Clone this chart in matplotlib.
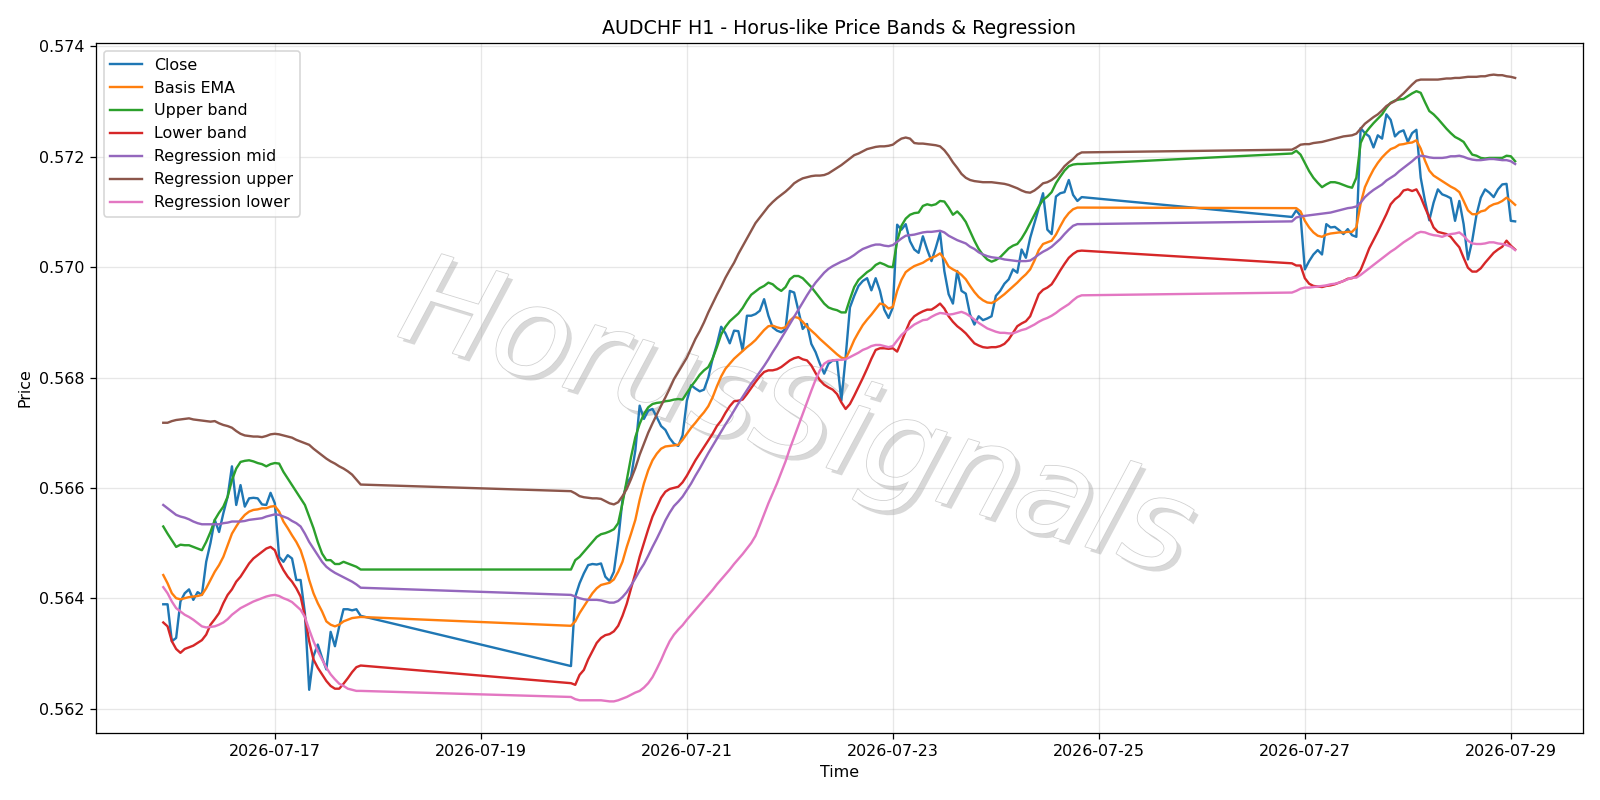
import pandas as pd
import numpy as np
import matplotlib
matplotlib.use('Agg')
import matplotlib.pyplot as plt
import matplotlib.patheffects as pe

# ── hourly timestamps, three trading blocks (weekend gaps) ───────────────
t_s1 = pd.date_range('2026-07-15 22:00', '2026-07-17 20:00', freq='h')
t_s2 = pd.date_range('2026-07-19 21:00', '2026-07-24 20:00', freq='h')
t_s3 = pd.date_range('2026-07-26 21:00', '2026-07-29 01:00', freq='h')

# ── block 1 ──────────────────────────────────────────────────────────────
close_s1 = [0.56389, 0.56389, 0.56322, 0.56328, 0.56394, 0.56409, 0.56416, 0.56397, 0.56411, 0.56406,
            0.56466, 0.56500, 0.56542, 0.56520, 0.56554, 0.56584, 0.56639, 0.56569, 0.56605, 0.56566,
            0.56581, 0.56582, 0.56581, 0.56570, 0.56569, 0.56591, 0.56572, 0.56475, 0.56466, 0.56478,
            0.56472, 0.56433, 0.56433, 0.56373, 0.56234, 0.56295, 0.56316, 0.56292, 0.56271, 0.56339,
            0.56313, 0.56349, 0.56380, 0.56380, 0.56378, 0.56380, 0.56368]
ema_s1 = [0.56442, 0.56427, 0.56409, 0.56400, 0.56398, 0.56400, 0.56402, 0.56403, 0.56404, 0.56406,
          0.56418, 0.56433, 0.56448, 0.56460, 0.56475, 0.56496, 0.56517, 0.56530, 0.56542, 0.56551,
          0.56557, 0.56560, 0.56561, 0.56563, 0.56563, 0.56566, 0.56567, 0.56557, 0.56539, 0.56527,
          0.56514, 0.56502, 0.56487, 0.56463, 0.56433, 0.56409, 0.56391, 0.56376, 0.56358, 0.56352,
          0.56349, 0.56352, 0.56358, 0.56361, 0.56364, 0.56365, 0.56366]
upper_s1 = [0.56530, 0.56517, 0.56505, 0.56493, 0.56497, 0.56496, 0.56496, 0.56493, 0.56490, 0.56487,
            0.56502, 0.56520, 0.56542, 0.56555, 0.56566, 0.56584, 0.56614, 0.56635, 0.56647, 0.56649,
            0.56650, 0.56648, 0.56645, 0.56643, 0.56639, 0.56643, 0.56645, 0.56644, 0.56629, 0.56617,
            0.56605, 0.56593, 0.56581, 0.56569, 0.56548, 0.56527, 0.56502, 0.56481, 0.56469, 0.56469,
            0.56462, 0.56462, 0.56466, 0.56463, 0.56460, 0.56457, 0.56452]
lower_s1 = [0.56356, 0.56349, 0.56322, 0.56308, 0.56301, 0.56308, 0.56311, 0.56314, 0.56319, 0.56324,
            0.56334, 0.56352, 0.56362, 0.56373, 0.56391, 0.56406, 0.56416, 0.56430, 0.56439, 0.56451,
            0.56463, 0.56472, 0.56478, 0.56484, 0.56490, 0.56493, 0.56487, 0.56466, 0.56451, 0.56439,
            0.56430, 0.56418, 0.56403, 0.56367, 0.56322, 0.56289, 0.56274, 0.56262, 0.56250, 0.56241,
            0.56236, 0.56236, 0.56245, 0.56255, 0.56266, 0.56275, 0.56278]
mid_s1 = [0.56569, 0.56563, 0.56557, 0.56551, 0.56548, 0.56546, 0.56543, 0.56539, 0.56536, 0.56534,
          0.56534, 0.56534, 0.56534, 0.56534, 0.56536, 0.56537, 0.56539, 0.56539, 0.56539, 0.56540,
          0.56542, 0.56543, 0.56544, 0.56545, 0.56548, 0.56550, 0.56552, 0.56551, 0.56548, 0.56545,
          0.56540, 0.56536, 0.56530, 0.56517, 0.56502, 0.56490, 0.56478, 0.56466, 0.56457, 0.56451,
          0.56446, 0.56442, 0.56438, 0.56434, 0.56430, 0.56425, 0.56419]
rup_s1 = [0.56718, 0.56718, 0.56721, 0.56723, 0.56724, 0.56725, 0.56726, 0.56724, 0.56723, 0.56722,
          0.56721, 0.56720, 0.56721, 0.56717, 0.56714, 0.56712, 0.56709, 0.56703, 0.56698, 0.56695,
          0.56694, 0.56693, 0.56693, 0.56692, 0.56694, 0.56697, 0.56698, 0.56697, 0.56695, 0.56693,
          0.56691, 0.56687, 0.56684, 0.56681, 0.56678, 0.56671, 0.56665, 0.56659, 0.56653, 0.56648,
          0.56644, 0.56639, 0.56635, 0.56630, 0.56624, 0.56615, 0.56606]
rlo_s1 = [0.56420, 0.56409, 0.56394, 0.56382, 0.56376, 0.56370, 0.56366, 0.56361, 0.56355, 0.56349,
          0.56347, 0.56348, 0.56349, 0.56352, 0.56356, 0.56362, 0.56370, 0.56376, 0.56382, 0.56386,
          0.56390, 0.56394, 0.56397, 0.56400, 0.56403, 0.56405, 0.56406, 0.56404, 0.56400, 0.56397,
          0.56393, 0.56386, 0.56379, 0.56366, 0.56343, 0.56322, 0.56304, 0.56289, 0.56274, 0.56262,
          0.56253, 0.56245, 0.56241, 0.56236, 0.56234, 0.56232, 0.56232]

# ── block 2 ──────────────────────────────────────────────────────────────
close_s2 = [0.56277, 0.56403, 0.56427, 0.56445, 0.56460, 0.56462, 0.56461, 0.56463, 0.56439, 0.56431,
            0.56448, 0.56505, 0.56578, 0.56608, 0.56620, 0.56668, 0.56749, 0.56725, 0.56740, 0.56743,
            0.56728, 0.56712, 0.56705, 0.56690, 0.56680, 0.56676, 0.56695, 0.56758, 0.56786, 0.56780,
            0.56775, 0.56778, 0.56800, 0.56834, 0.56860, 0.56892, 0.56880, 0.56862, 0.56885, 0.56884,
            0.56849, 0.56912, 0.56912, 0.56915, 0.56921, 0.56942, 0.56912, 0.56891, 0.56885, 0.56882,
            0.56888, 0.56957, 0.56954, 0.56921, 0.56888, 0.56897, 0.56861, 0.56846, 0.56825, 0.56807,
            0.56825, 0.56831, 0.56831, 0.56758, 0.56837, 0.56927, 0.56948, 0.56966, 0.56975, 0.56980,
            0.56958, 0.56980, 0.56957, 0.56923, 0.56908, 0.56927, 0.57077, 0.57068, 0.57078, 0.57047,
            0.57032, 0.57026, 0.57056, 0.57032, 0.57011, 0.57035, 0.57062, 0.56993, 0.56951, 0.56934,
            0.56993, 0.56957, 0.56952, 0.56914, 0.56896, 0.56911, 0.56904, 0.56907, 0.56911, 0.56948,
            0.56957, 0.56970, 0.56978, 0.56996, 0.56990, 0.57032, 0.57017, 0.57053, 0.57080, 0.57107,
            0.57134, 0.57068, 0.57060, 0.57128, 0.57134, 0.57136, 0.57158, 0.57131, 0.57120, 0.57127]
ema_s2 = [0.56350, 0.56358, 0.56373, 0.56385, 0.56397, 0.56409, 0.56418, 0.56424, 0.56426, 0.56428,
          0.56434, 0.56448, 0.56466, 0.56493, 0.56517, 0.56542, 0.56578, 0.56608, 0.56632, 0.56650,
          0.56662, 0.56671, 0.56675, 0.56676, 0.56677, 0.56678, 0.56687, 0.56698, 0.56709, 0.56718,
          0.56728, 0.56737, 0.56748, 0.56764, 0.56784, 0.56802, 0.56816, 0.56825, 0.56834, 0.56841,
          0.56848, 0.56855, 0.56861, 0.56868, 0.56877, 0.56886, 0.56893, 0.56894, 0.56891, 0.56889,
          0.56891, 0.56903, 0.56910, 0.56908, 0.56901, 0.56892, 0.56885, 0.56878, 0.56870, 0.56863,
          0.56856, 0.56849, 0.56842, 0.56836, 0.56834, 0.56850, 0.56868, 0.56882, 0.56895, 0.56905,
          0.56914, 0.56924, 0.56934, 0.56932, 0.56925, 0.56928, 0.56957, 0.56977, 0.56991, 0.56997,
          0.57002, 0.57005, 0.57008, 0.57013, 0.57017, 0.57020, 0.57025, 0.57015, 0.57001, 0.56996,
          0.56992, 0.56986, 0.56978, 0.56966, 0.56955, 0.56946, 0.56940, 0.56936, 0.56935, 0.56939,
          0.56945, 0.56951, 0.56958, 0.56965, 0.56972, 0.56980, 0.56987, 0.56996, 0.57012, 0.57031,
          0.57042, 0.57045, 0.57048, 0.57059, 0.57074, 0.57088, 0.57098, 0.57105, 0.57108, 0.57108]
upper_s2 = [0.56452, 0.56469, 0.56475, 0.56484, 0.56493, 0.56502, 0.56511, 0.56516, 0.56518, 0.56521,
            0.56525, 0.56536, 0.56572, 0.56614, 0.56656, 0.56692, 0.56716, 0.56734, 0.56746, 0.56752,
            0.56754, 0.56755, 0.56757, 0.56758, 0.56760, 0.56761, 0.56760, 0.56772, 0.56784, 0.56794,
            0.56805, 0.56813, 0.56819, 0.56834, 0.56855, 0.56878, 0.56892, 0.56902, 0.56909, 0.56916,
            0.56926, 0.56939, 0.56950, 0.56956, 0.56962, 0.56966, 0.56972, 0.56969, 0.56962, 0.56957,
            0.56964, 0.56978, 0.56984, 0.56984, 0.56980, 0.56972, 0.56964, 0.56954, 0.56944, 0.56934,
            0.56927, 0.56924, 0.56922, 0.56918, 0.56918, 0.56942, 0.56964, 0.56977, 0.56984, 0.56991,
            0.56996, 0.57004, 0.57008, 0.57005, 0.57001, 0.57000, 0.57047, 0.57075, 0.57088, 0.57095,
            0.57098, 0.57099, 0.57111, 0.57114, 0.57112, 0.57114, 0.57120, 0.57119, 0.57108, 0.57095,
            0.57101, 0.57093, 0.57082, 0.57065, 0.57048, 0.57033, 0.57022, 0.57014, 0.57010, 0.57013,
            0.57018, 0.57026, 0.57034, 0.57039, 0.57042, 0.57052, 0.57065, 0.57080, 0.57095, 0.57110,
            0.57122, 0.57128, 0.57136, 0.57152, 0.57164, 0.57175, 0.57183, 0.57186, 0.57187, 0.57187]
lower_s2 = [0.56246, 0.56243, 0.56261, 0.56270, 0.56289, 0.56304, 0.56319, 0.56328, 0.56333, 0.56335,
            0.56340, 0.56350, 0.56368, 0.56390, 0.56418, 0.56445, 0.56475, 0.56500, 0.56525, 0.56548,
            0.56565, 0.56582, 0.56593, 0.56598, 0.56600, 0.56602, 0.56610, 0.56622, 0.56636, 0.56650,
            0.56662, 0.56674, 0.56686, 0.56698, 0.56712, 0.56722, 0.56736, 0.56748, 0.56757, 0.56758,
            0.56760, 0.56770, 0.56781, 0.56792, 0.56802, 0.56810, 0.56813, 0.56813, 0.56815, 0.56819,
            0.56825, 0.56831, 0.56835, 0.56837, 0.56833, 0.56831, 0.56822, 0.56808, 0.56795, 0.56787,
            0.56782, 0.56778, 0.56770, 0.56755, 0.56743, 0.56752, 0.56767, 0.56783, 0.56799, 0.56816,
            0.56834, 0.56850, 0.56853, 0.56853, 0.56852, 0.56853, 0.56847, 0.56865, 0.56884, 0.56902,
            0.56911, 0.56916, 0.56920, 0.56923, 0.56923, 0.56928, 0.56934, 0.56925, 0.56911, 0.56901,
            0.56893, 0.56887, 0.56880, 0.56871, 0.56862, 0.56858, 0.56855, 0.56854, 0.56855, 0.56855,
            0.56857, 0.56861, 0.56869, 0.56881, 0.56893, 0.56898, 0.56902, 0.56911, 0.56931, 0.56951,
            0.56959, 0.56963, 0.56969, 0.56981, 0.56994, 0.57006, 0.57017, 0.57024, 0.57029, 0.57030]
mid_s2 = [0.56406, 0.56403, 0.56400, 0.56398, 0.56397, 0.56397, 0.56397, 0.56396, 0.56394, 0.56392,
          0.56392, 0.56395, 0.56402, 0.56411, 0.56423, 0.56436, 0.56450, 0.56462, 0.56477, 0.56493,
          0.56508, 0.56524, 0.56541, 0.56555, 0.56567, 0.56575, 0.56584, 0.56596, 0.56608, 0.56622,
          0.56635, 0.56649, 0.56663, 0.56676, 0.56689, 0.56702, 0.56715, 0.56727, 0.56740, 0.56753,
          0.56765, 0.56777, 0.56789, 0.56799, 0.56810, 0.56821, 0.56833, 0.56846, 0.56858, 0.56871,
          0.56884, 0.56897, 0.56910, 0.56923, 0.56936, 0.56949, 0.56961, 0.56972, 0.56981, 0.56990,
          0.56997, 0.57002, 0.57006, 0.57010, 0.57013, 0.57017, 0.57022, 0.57028, 0.57033, 0.57036,
          0.57039, 0.57041, 0.57041, 0.57039, 0.57038, 0.57040, 0.57046, 0.57052, 0.57057, 0.57058,
          0.57059, 0.57061, 0.57063, 0.57064, 0.57064, 0.57065, 0.57066, 0.57063, 0.57057, 0.57053,
          0.57049, 0.57046, 0.57043, 0.57037, 0.57033, 0.57027, 0.57023, 0.57020, 0.57018, 0.57017,
          0.57016, 0.57014, 0.57013, 0.57012, 0.57011, 0.57011, 0.57011, 0.57012, 0.57017, 0.57023,
          0.57028, 0.57032, 0.57037, 0.57044, 0.57051, 0.57060, 0.57068, 0.57075, 0.57078, 0.57078]
rup_s2 = [0.56594, 0.56590, 0.56585, 0.56583, 0.56582, 0.56581, 0.56581, 0.56580, 0.56576, 0.56572,
          0.56570, 0.56574, 0.56585, 0.56598, 0.56616, 0.56636, 0.56660, 0.56680, 0.56700, 0.56717,
          0.56733, 0.56749, 0.56764, 0.56780, 0.56797, 0.56810, 0.56823, 0.56836, 0.56853, 0.56870,
          0.56884, 0.56900, 0.56918, 0.56934, 0.56950, 0.56965, 0.56981, 0.56995, 0.57008, 0.57024,
          0.57038, 0.57052, 0.57066, 0.57080, 0.57090, 0.57100, 0.57110, 0.57118, 0.57125, 0.57131,
          0.57137, 0.57144, 0.57152, 0.57157, 0.57161, 0.57163, 0.57165, 0.57166, 0.57166, 0.57167,
          0.57170, 0.57175, 0.57180, 0.57185, 0.57191, 0.57197, 0.57203, 0.57206, 0.57210, 0.57214,
          0.57216, 0.57218, 0.57219, 0.57219, 0.57220, 0.57222, 0.57228, 0.57233, 0.57235, 0.57233,
          0.57225, 0.57224, 0.57224, 0.57223, 0.57222, 0.57221, 0.57219, 0.57212, 0.57202, 0.57190,
          0.57180, 0.57169, 0.57162, 0.57158, 0.57156, 0.57155, 0.57154, 0.57154, 0.57154, 0.57153,
          0.57152, 0.57151, 0.57149, 0.57146, 0.57143, 0.57139, 0.57136, 0.57135, 0.57139, 0.57145,
          0.57152, 0.57154, 0.57158, 0.57164, 0.57173, 0.57183, 0.57190, 0.57196, 0.57204, 0.57208]
rlo_s2 = [0.56221, 0.56217, 0.56215, 0.56215, 0.56215, 0.56215, 0.56215, 0.56215, 0.56214, 0.56213,
          0.56213, 0.56215, 0.56218, 0.56221, 0.56225, 0.56229, 0.56232, 0.56238, 0.56246, 0.56257,
          0.56272, 0.56288, 0.56306, 0.56322, 0.56334, 0.56343, 0.56351, 0.56361, 0.56370, 0.56379,
          0.56388, 0.56397, 0.56406, 0.56415, 0.56425, 0.56434, 0.56443, 0.56452, 0.56462, 0.56471,
          0.56480, 0.56490, 0.56500, 0.56513, 0.56532, 0.56552, 0.56572, 0.56590, 0.56608, 0.56628,
          0.56648, 0.56671, 0.56692, 0.56713, 0.56734, 0.56755, 0.56776, 0.56796, 0.56813, 0.56825,
          0.56830, 0.56831, 0.56832, 0.56832, 0.56833, 0.56837, 0.56841, 0.56845, 0.56850, 0.56853,
          0.56857, 0.56859, 0.56859, 0.56857, 0.56855, 0.56857, 0.56867, 0.56877, 0.56884, 0.56890,
          0.56896, 0.56900, 0.56904, 0.56905, 0.56910, 0.56914, 0.56917, 0.56916, 0.56914, 0.56915,
          0.56917, 0.56919, 0.56916, 0.56911, 0.56905, 0.56899, 0.56894, 0.56889, 0.56886, 0.56883,
          0.56881, 0.56881, 0.56880, 0.56880, 0.56883, 0.56886, 0.56888, 0.56892, 0.56896, 0.56901,
          0.56905, 0.56908, 0.56912, 0.56917, 0.56923, 0.56928, 0.56933, 0.56940, 0.56946, 0.56949]

# ── block 3 ──────────────────────────────────────────────────────────────
close_s3 = [0.57091, 0.57103, 0.57093, 0.56996, 0.57011, 0.57023, 0.57031, 0.57023, 0.57078, 0.57072,
            0.57073, 0.57067, 0.57060, 0.57069, 0.57058, 0.57055, 0.57252, 0.57243, 0.57237, 0.57217,
            0.57239, 0.57233, 0.57277, 0.57267, 0.57237, 0.57245, 0.57248, 0.57227, 0.57243, 0.57249,
            0.57162, 0.57120, 0.57085, 0.57117, 0.57141, 0.57132, 0.57129, 0.57125, 0.57084, 0.57120,
            0.57078, 0.57014, 0.57048, 0.57095, 0.57126, 0.57141, 0.57135, 0.57127, 0.57141, 0.57150,
            0.57151, 0.57084, 0.57083]
ema_s3 = [0.57107, 0.57107, 0.57101, 0.57084, 0.57072, 0.57063, 0.57057, 0.57055, 0.57059, 0.57061,
          0.57062, 0.57063, 0.57063, 0.57064, 0.57064, 0.57072, 0.57115, 0.57145, 0.57162, 0.57177,
          0.57189, 0.57199, 0.57207, 0.57214, 0.57217, 0.57222, 0.57223, 0.57225, 0.57226, 0.57230,
          0.57215, 0.57193, 0.57175, 0.57166, 0.57161, 0.57156, 0.57151, 0.57146, 0.57142, 0.57136,
          0.57120, 0.57103, 0.57096, 0.57096, 0.57101, 0.57103, 0.57110, 0.57114, 0.57116, 0.57120,
          0.57126, 0.57120, 0.57113]
upper_s3 = [0.57206, 0.57211, 0.57204, 0.57189, 0.57174, 0.57162, 0.57153, 0.57145, 0.57150, 0.57154,
            0.57154, 0.57152, 0.57149, 0.57146, 0.57144, 0.57162, 0.57225, 0.57242, 0.57252, 0.57261,
            0.57269, 0.57277, 0.57289, 0.57298, 0.57302, 0.57304, 0.57305, 0.57310, 0.57315, 0.57319,
            0.57316, 0.57299, 0.57283, 0.57277, 0.57269, 0.57260, 0.57251, 0.57243, 0.57236, 0.57232,
            0.57227, 0.57215, 0.57204, 0.57202, 0.57198, 0.57197, 0.57198, 0.57198, 0.57198, 0.57198,
            0.57202, 0.57201, 0.57192]
lower_s3 = [0.57007, 0.57003, 0.57003, 0.56980, 0.56970, 0.56966, 0.56965, 0.56964, 0.56966, 0.56967,
            0.56969, 0.56972, 0.56975, 0.56979, 0.56980, 0.56984, 0.56995, 0.57014, 0.57034, 0.57049,
            0.57064, 0.57080, 0.57096, 0.57114, 0.57123, 0.57129, 0.57139, 0.57141, 0.57138, 0.57141,
            0.57127, 0.57108, 0.57090, 0.57072, 0.57064, 0.57062, 0.57060, 0.57055, 0.57045, 0.57036,
            0.57017, 0.56999, 0.56992, 0.56992, 0.56998, 0.57008, 0.57017, 0.57026, 0.57032, 0.57037,
            0.57048, 0.57039, 0.57032]
mid_s3 = [0.57083, 0.57090, 0.57092, 0.57093, 0.57094, 0.57095, 0.57096, 0.57097, 0.57098, 0.57099,
          0.57101, 0.57103, 0.57105, 0.57107, 0.57108, 0.57110, 0.57117, 0.57127, 0.57134, 0.57140,
          0.57145, 0.57150, 0.57157, 0.57162, 0.57167, 0.57174, 0.57180, 0.57186, 0.57192, 0.57199,
          0.57202, 0.57201, 0.57199, 0.57198, 0.57198, 0.57198, 0.57199, 0.57201, 0.57201, 0.57202,
          0.57200, 0.57197, 0.57195, 0.57194, 0.57194, 0.57195, 0.57196, 0.57196, 0.57195, 0.57194,
          0.57194, 0.57192, 0.57187]
rup_s3 = [0.57213, 0.57217, 0.57222, 0.57223, 0.57223, 0.57225, 0.57226, 0.57227, 0.57229, 0.57231,
          0.57233, 0.57235, 0.57237, 0.57238, 0.57239, 0.57242, 0.57251, 0.57260, 0.57266, 0.57272,
          0.57277, 0.57284, 0.57292, 0.57297, 0.57301, 0.57308, 0.57315, 0.57323, 0.57331, 0.57338,
          0.57340, 0.57340, 0.57340, 0.57340, 0.57340, 0.57341, 0.57342, 0.57342, 0.57343, 0.57343,
          0.57344, 0.57345, 0.57345, 0.57345, 0.57346, 0.57346, 0.57348, 0.57349, 0.57348, 0.57348,
          0.57346, 0.57345, 0.57343]
rlo_s3 = [0.56954, 0.56957, 0.56961, 0.56963, 0.56963, 0.56964, 0.56965, 0.56966, 0.56967, 0.56969,
          0.56970, 0.56972, 0.56975, 0.56978, 0.56981, 0.56981, 0.56986, 0.56992, 0.56998, 0.57004,
          0.57010, 0.57016, 0.57022, 0.57028, 0.57033, 0.57039, 0.57045, 0.57050, 0.57055, 0.57061,
          0.57064, 0.57063, 0.57060, 0.57058, 0.57057, 0.57055, 0.57058, 0.57060, 0.57061, 0.57063,
          0.57057, 0.57048, 0.57043, 0.57042, 0.57042, 0.57043, 0.57045, 0.57045, 0.57043, 0.57042,
          0.57040, 0.57037, 0.57031]

# ── assemble ─────────────────────────────────────────────────────────────
times = t_s1.append(t_s2).append(t_s3)
series = [
    ('Close',            close_s1 + close_s2 + close_s3),
    ('Basis EMA',        ema_s1 + ema_s2 + ema_s3),
    ('Upper band',       upper_s1 + upper_s2 + upper_s3),
    ('Lower band',       lower_s1 + lower_s2 + lower_s3),
    ('Regression mid',   mid_s1 + mid_s2 + mid_s3),
    ('Regression upper', rup_s1 + rup_s2 + rup_s3),
    ('Regression lower', rlo_s1 + rlo_s2 + rlo_s3),
]

fig, ax = plt.subplots(figsize=(14, 7), dpi=1600 / 14)
fig.subplots_adjust(left=0.0598, right=0.9892, bottom=0.0841, top=0.9459)

for name, vals in series:
    ax.plot(times, vals, label=name, linewidth=1.5)

ax.set_title('AUDCHF H1 - Horus-like Price Bands & Regression')
ax.set_xlabel('Time')
ax.set_ylabel('Price')
ax.grid(True, alpha=0.3)
ax.legend(loc='upper left')

# watermark, under the lines
ax.text(0.4975, 0.4725, 'HorusSignals', transform=fig.transFigure, fontsize=79,
        style='italic', color='white', rotation=-17, ha='center', va='center', zorder=1,
        path_effects=[pe.SimplePatchShadow(offset=(3, -3), shadow_rgbFace='gray', alpha=0.3),
                      pe.Stroke(linewidth=1.0, foreground='#d0d0d0'),
                      pe.Normal()])

fig.savefig('out.png', dpi=1600 / 14)
